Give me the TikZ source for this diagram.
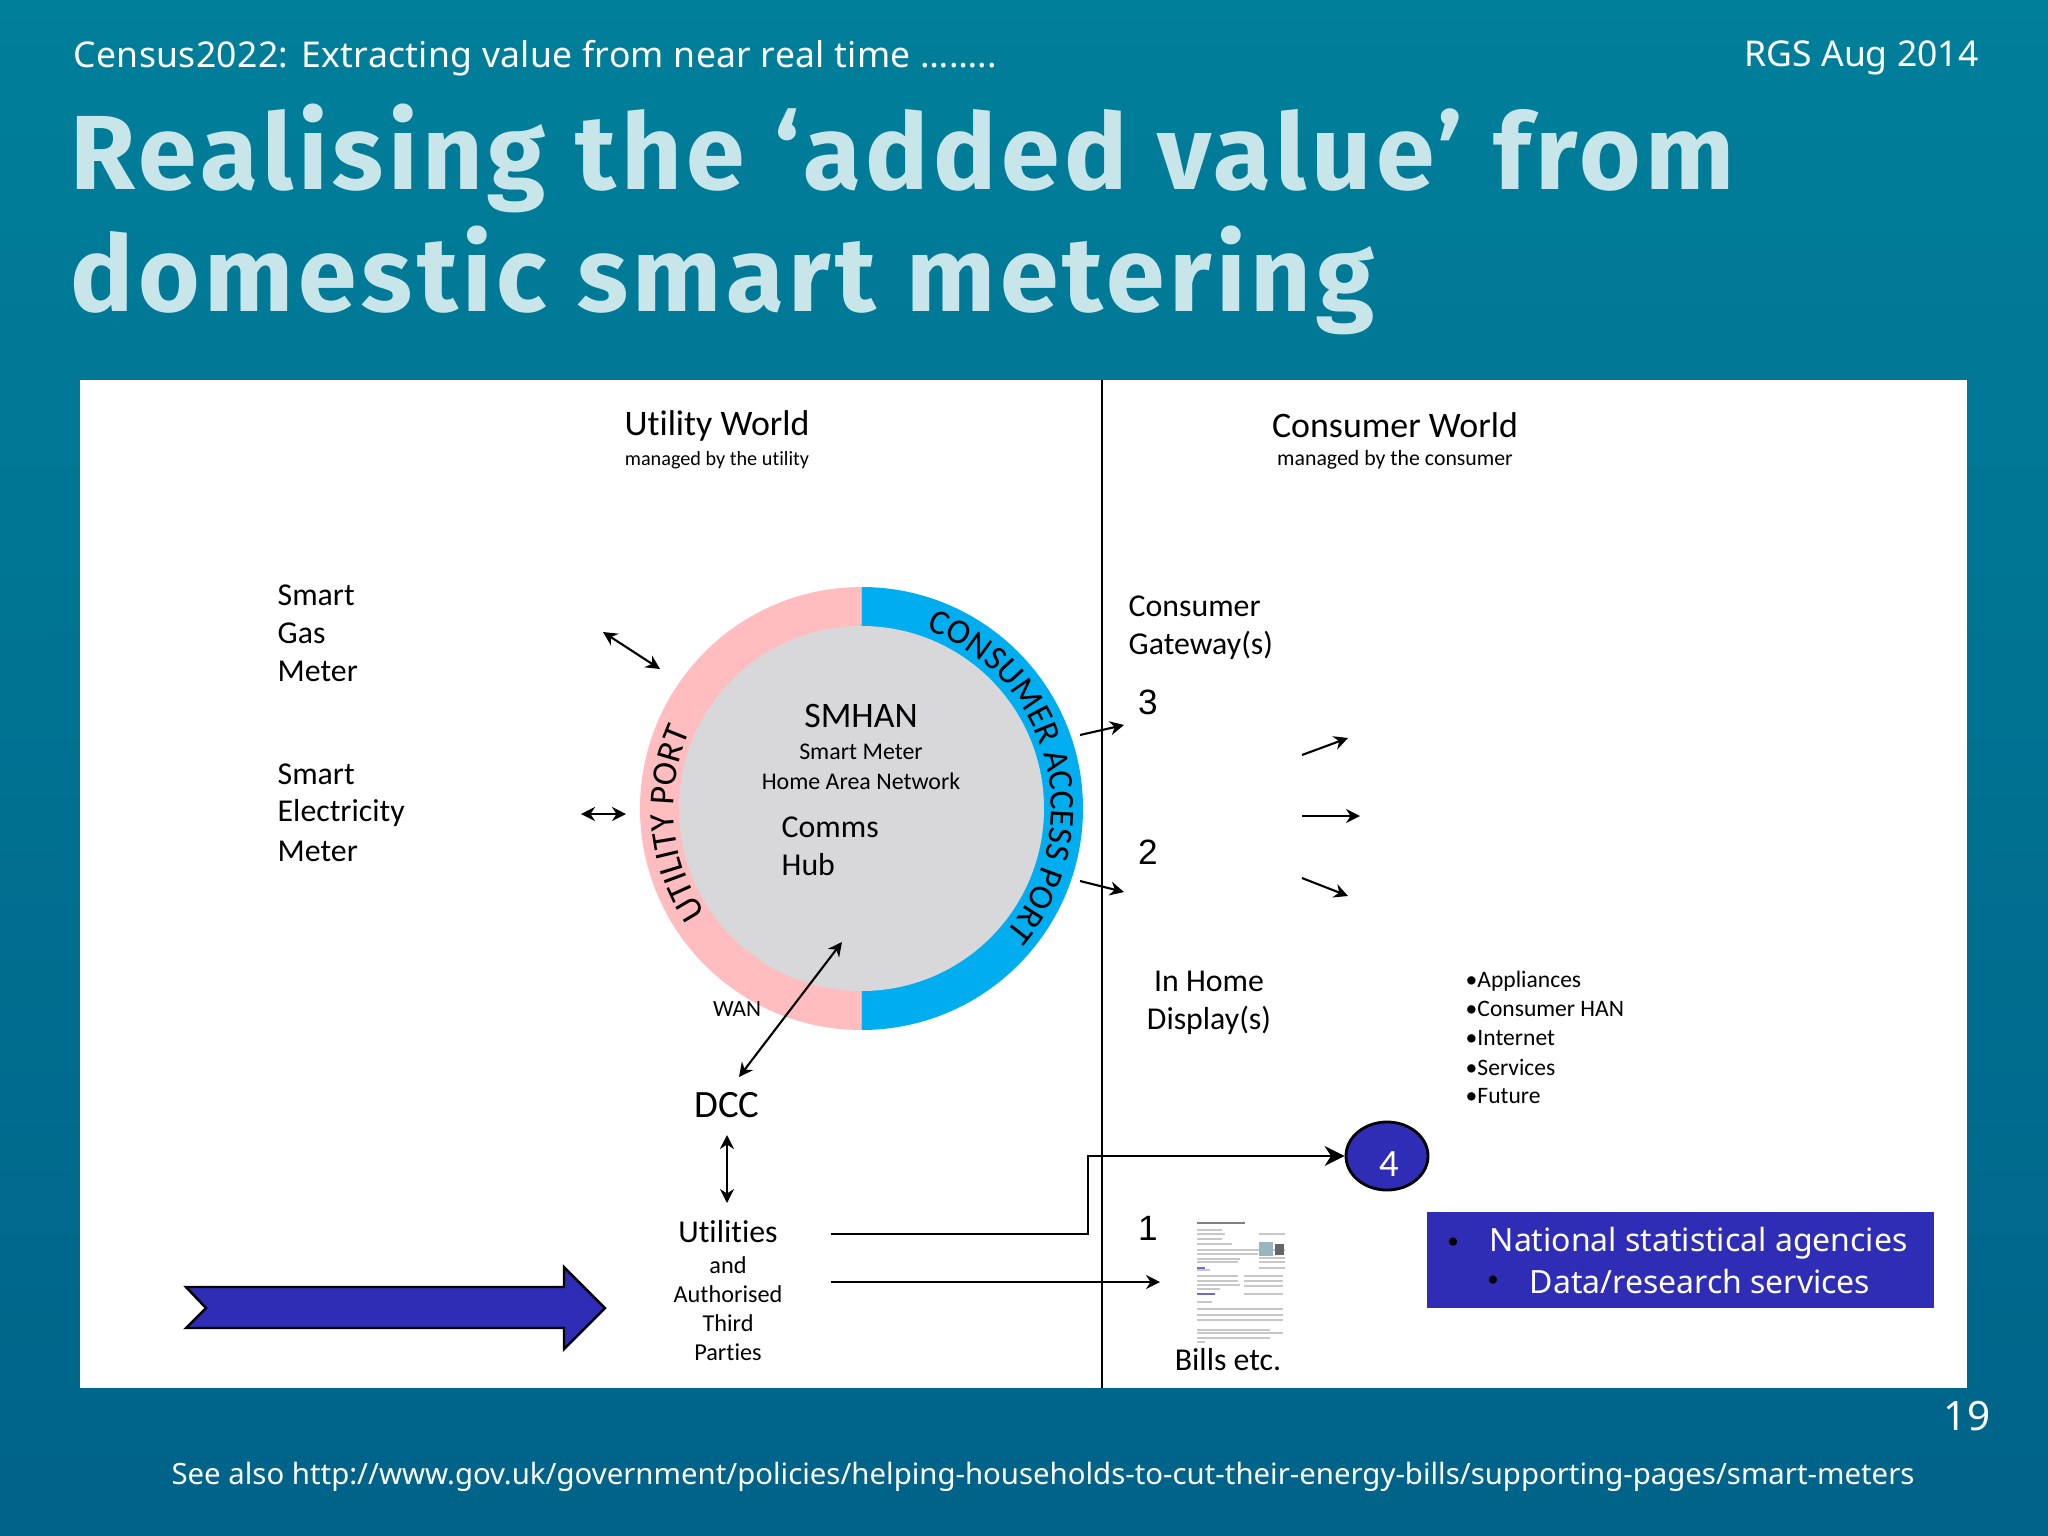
\documentclass[tikz,border=0pt]{standalone}
\usepackage{fontspec}
\usetikzlibrary{arrows.meta}
\usetikzlibrary{shapes.geometric}
\usetikzlibrary{decorations.text}
\setmainfont[Ligatures=CommonOff]{Carlito}
\newfontfamily\slidefont{Noto Sans}
\newfontfamily\titlefont[LetterSpace=4.4]{Fira Sans}
\newfontfamily\numfont{Liberation Sans}
\newcommand{\px}[1]{\fontsize{#1}{#1}\selectfont}
\definecolor{seatop}{HTML}{007F9A}
\definecolor{seabot}{HTML}{006389}
\definecolor{titlecol}{HTML}{C8E6E9}
\definecolor{portpink}{HTML}{FFBDC0}
\definecolor{portblue}{HTML}{00AEEF}
\definecolor{hangrey}{HTML}{D8D7DA}
\definecolor{agencyblue}{HTML}{2F2DB5}
\tikzset{
    lbl/.style={inner sep=0pt,font=\px{10}},
    big/.style={lbl,font=\px{9.05}},
    small/.style={lbl,font=\px{6.9}},
    listitem/.style={lbl,anchor=west,font=\px{6.7}},
    slide/.style={inner sep=0pt,text=white,font=\slidefont\px{10.1}},
    heading/.style={inner sep=0pt,anchor=base west,text=titlecol,font=\titlefont\bfseries\px{30}},
    num/.style={lbl,font=\numfont\px{10}},
    link/.style={semithick,-{Stealth[length=1.4mm,width=1.4mm]}},
    dlink/.style={semithick,{Stealth[length=1.4mm,width=1.4mm]}-{Stealth[length=1.4mm,width=1.4mm]}},
    billrule/.style={draw=black!22,line width=0.4pt},
}
\begin{document}
\begin{tikzpicture}[x=0.01cm,y=-0.01cm]
            %%% BACKGROUND %%%
            \shade[top color=seatop,bottom color=seabot] (0,0) rectangle (2048,1536);
            \useasboundingbox (0,0) rectangle (2048,1536);
            \fill[white] (80,380) rectangle (1967,1388);
            \draw[line width=0.4pt] (1102,380)--(1102,1388);

            %%% COORDINATES %%%
            \coordinate (gasA) at (603,632);
            \coordinate (gasB) at (660,669);
            \coordinate (elecA) at (581,814);
            \coordinate (elecB) at (626,814);
            \coordinate (portA) at (1080,735);
            \coordinate (portB) at (1124,725);
            \coordinate (portC) at (1080,881);
            \coordinate (portD) at (1124,892);
            \coordinate (fanA) at (1302,755);
            \coordinate (fanB) at (1348,738);
            \coordinate (fanC) at (1302,816);
            \coordinate (fanD) at (1360,816);
            \coordinate (fanE) at (1302,878);
            \coordinate (fanF) at (1348,896);
            \coordinate (wanA) at (842,942);
            \coordinate (wanB) at (739,1077);
            \coordinate (dccA) at (727,1135);
            \coordinate (dccB) at (727,1203);
            \coordinate (utilA) at (831,1234);
            \coordinate (utilB) at (831,1282);
            \coordinate (bend) at (1088,1234);
            \coordinate (billin) at (1160,1282);

            %%% SMHAN RING %%%
            \coordinate (hub) at (861.5,808.5);
            \fill[portpink] (861.5,587) arc[start angle=270,end angle=90,radius=221.5]--cycle;
            \fill[portblue] (861.5,587) arc[start angle=-90,end angle=90,radius=221.5]--cycle;
            \fill[hangrey] (hub) circle[radius=182.5];
            \path[decorate,decoration={text along path,
                text={|\px{9.9}|CONSUMER ACCESS PORT}}]
                (hub) ++(-70:190) arc[start angle=-70,end angle=70,radius=190];
            \path[decorate,decoration={text along path,
                text={|\px{10}|UTILITY PORT}}]
                (hub) ++(146:188) arc[start angle=146,end angle=240,radius=188];

            %%% TEXT %%%
            \node[slide,anchor=west,font=\slidefont\addfontfeature{LetterSpace=1}\px{10.1}] (header) at (73,58) {Census2022: Extracting value from near real time ……..};
            \node[slide,anchor=east] (event) at (1979,58) {RGS Aug 2014};
            \node[heading] (title1) at (70,189) {Realising the ‘added value’ from};
            \node[heading] (title2) at (70,311) {domestic smart metering};
            \node[slide,font=\slidefont\px{11.5}] (page) at (1967,1416) {19};
            \node[slide,font=\slidefont\px{8.35}] (seealso) at (1043,1477) {See also http://www.gov.uk/government/policies/helping-households-to-cut-their-energy-bills/supporting-pages/smart-meters};

            \node[lbl,font=\px{10.2}] (utilworld) at (717,426) {Utility World};
            \node[small,font=\px{5.75}] (utilsub) at (717,460) {managed by the utility};
            \node[lbl,font=\px{10.2}] (consworld) at (1395,425) {Consumer World};
            \node[small,font=\px{6.2}] (conssub) at (1395,460) {managed by the consumer};

            \node[big,anchor=west] (gas1) at (277,595) {Smart};
            \node[big,anchor=west] (gas2) at (277,633) {Gas};
            \node[big,anchor=west] (gas3) at (277,671) {Meter};
            \node[big,anchor=west] (elec1) at (277,774) {Smart};
            \node[big,anchor=west] (elec2) at (277,813) {Electricity};
            \node[big,anchor=west] (elec3) at (277,851) {Meter};

            \node[lbl,font=\px{10.2}] (smhan) at (861,716) {SMHAN};
            \node[lbl,font=\px{6.8}] (smart) at (861,752) {Smart Meter};
            \node[lbl,font=\px{6.8}] (network) at (861,781) {Home Area Network};
            \node[big,anchor=west] (comms) at (781,827) {Comms};
            \node[big,anchor=west] (commshub) at (781,865) {Hub};
            \node[small,font=\px{6.6}] (wan) at (737,1009) {WAN};

            \node[big,anchor=west] (gate1) at (1128,606) {Consumer};
            \node[big,anchor=west] (gate2) at (1128,645) {Gateway(s)};
            \node[num] (three) at (1148,702) {3};
            \node[num] (two) at (1148,852) {2};
            \node[num] (one) at (1148,1228) {1};
            \node[big] (home1) at (1209,981) {In Home};
            \node[big] (home2) at (1209,1020) {Display(s)};

            \node[listitem] (list1) at (1465,981) {•Appliances};
            \node[listitem] (list2) at (1465,1009) {•Consumer HAN};
            \node[listitem] (list3) at (1465,1038) {•Internet};
            \node[listitem] (list4) at (1465,1067) {•Services};
            \node[listitem] (list5) at (1465,1096) {•Future};

            \node[lbl,font=\px{11}] (dcc) at (727,1105) {DCC};
            \node[big] (util) at (728,1232) {Utilities};
            \node[small] (and) at (728,1265) {and};
            \node[small] (auth) at (728,1294) {Authorised};
            \node[small] (third) at (728,1323) {Third};
            \node[small] (parties) at (728,1352) {Parties};
            \node[big] (bills) at (1228,1360) {Bills etc.};

            %%% BILL %%%
            \draw[draw=black!50,line width=0.6pt] (1197,1223)--(1245,1223);
            \foreach \y/\x in {1230/1222,1234/1225,1239/1222,1244/1232,1250/1262,1254/1258,1259/1240,1262/1238,1270/1210,1276/1238,1281/1238,1285/1240,1289/1220,1302/1212,1309/1283,1315/1283,1320/1283,1330/1270,1333/1283,1338/1270,1342/1205}
                \draw[billrule] (1197,\y)--(\x,\y);
            \foreach \y in {1276,1281,1286,1294}
                \draw[billrule] (1244,\y)--(1283,\y);
            \foreach \y in {1234,1250,1258,1262,1268}
                \draw[billrule] (1259,\y)--(1285,\y);
            \fill[portblue!40!black!40] (1259,1242) rectangle (1273,1256);
            \fill[black!60] (1275,1244) rectangle (1284,1255);
            \fill[agencyblue!70] (1197,1267) rectangle (1205,1269);
            \fill[agencyblue!70] (1197,1293) rectangle (1215,1295);

            %%% AGENCIES %%%
            \node[ellipse,draw=black,thick,fill=agencyblue,minimum width=0.82cm,minimum height=0.68cm,inner sep=0pt] (four) at (1387,1156) {};
            \node[lbl,text=white,font=\px{11}] (fourlabel) at (1389,1164) {4};
            \fill[agencyblue] (1427,1212) rectangle (1934,1308);
            \node[lbl,text=black,font=\px{6.5}] (dot1) at (1453,1243) {•};
            \node[lbl,text=black,font=\px{6.5}] (dot2) at (1493,1281) {•};
            \node[slide,anchor=west,font=\slidefont\px{9.1}] (agency1) at (1489,1243) {National statistical agencies};
            \node[slide,anchor=west,font=\slidefont\px{9.1}] (agency2) at (1529,1281) {Data/research services};

            %%% BIG ARROW %%%
            \draw[line width=0.7pt,fill=agencyblue] (186,1287)--(564,1287)--(564,1267)--(605,1308)--(564,1349)--(564,1328)--(186,1328)--(206,1308)--cycle;

            %%% ARROWS %%%
            \draw[dlink] (gasA)--(gasB);
            \draw[dlink] (elecA)--(elecB);
            \draw[link] (portA)--(portB);
            \draw[link] (portC)--(portD);
            \draw[link] (fanA)--(fanB);
            \draw[link] (fanC)--(fanD);
            \draw[link] (fanE)--(fanF);
            \draw[dlink] (wanA)--(wanB);
            \draw[dlink] (dccA)--(dccB);
            \draw[semithick,-{Stealth[length=2mm,width=2mm]}] (utilA)--(bend)|-(four.west);
            \draw[link] (utilB)--(billin);
        \end{tikzpicture}
\end{document}
